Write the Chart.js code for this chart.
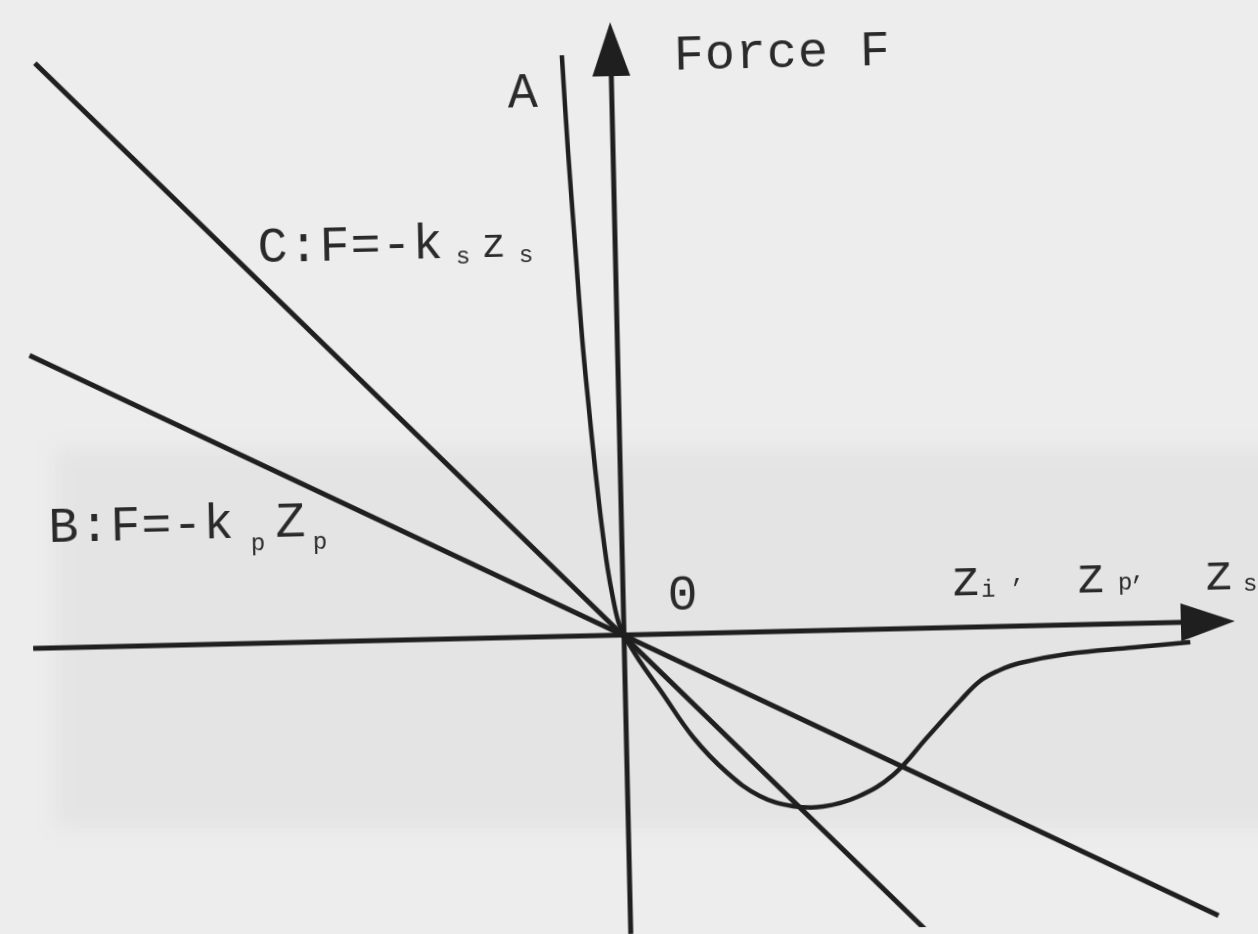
<!DOCTYPE html>
<html>
<head>
<meta charset="utf-8">
<title>Force F</title>
<script src="https://cdn.jsdelivr.net/npm/chart.js@4.4.1/dist/chart.umd.min.js"></script>
<style>
  html, body { margin: 0; padding: 0; background: #ededed; overflow: hidden; }
  #wrap { position: relative; width: 1258px; height: 934px; }
  #band {
    position: absolute; left: 55px; top: 448px; width: 1240px; height: 380px;
    background: #e4e4e4; filter: blur(10px);
  }
  #chart {
    position: absolute; left: 0; top: 0;
    transform: rotate(-1.3deg); transform-origin: 624px 635px;
  }
</style>
</head>
<body>
<div id="wrap">
  <div id="band"></div>
  <canvas id="chart" width="1258" height="934"></canvas>
</div>
<script>
// Displacement z (z_i, z_p, z_s) and force F for each characteristic.
const curveA_z = [-0.49, -0.45, -0.40, -0.35, -0.30, -0.25, -0.20, -0.15, -0.10, -0.05, 0.00,
                  0.10, 0.20, 0.35, 0.67, 1.00, 1.32, 1.65, 1.95, 2.30, 2.66, 3.01, 3.35, 3.55,
                  3.74, 3.95, 4.43, 5.09, 5.66];
const curveA_F = [5.81, 4.85, 3.90, 2.96, 2.28, 1.66, 1.12, 0.68, 0.36, 0.12, 0.00,
                  -0.18, -0.34, -0.56, -1.04, -1.40, -1.64, -1.75, -1.76, -1.67, -1.46, -1.09, -0.73, -0.54,
                  -0.44, -0.37, -0.29, -0.24, -0.20];

// B: F = -k_p z_p
const lineB_z = [-5.88, 5.88];
const lineB_F = [2.93, -2.94];

// C: F = -k_s z_s
const lineC_z = [-5.76, 3.05];
const lineC_F = [5.85, -3.12];

// Axis extents (tail, arrow tip)
const zAxisRange = [-5.91, 6.11];
const fAxisRange = [-3.05, 6.13];

const toPoints = (zs, fs) => zs.map((z, i) => ({ x: z, y: fs[i] }));

const INK = '#1f1f1f';
const TEXT = '#2a2a2a';
const FAMILY = '"Liberation Mono", "DejaVu Sans Mono", monospace';
const MAIN_FONT = '50px ' + FAMILY;
const SMALL_FONT = '40px ' + FAMILY;
const SUB_FONT = '24px ' + FAMILY;

// Text labels anchored in data coordinates; runs are offset in pixels from the anchor.
const labels = [
  { z: 0.63, f: 5.64, runs: [{ t: 'Force F', dx: 0 }] },
  { z: -1.04, f: 5.30, runs: [{ t: 'A', dx: 0 }] },
  { z: -3.575, f: 3.81, runs: [
      { t: 'C:F=-k', dx: 0 }, { t: 's', dx: 198, dy: 6, sub: true },
      { t: 'z', dx: 224, small: true }, { t: 's', dx: 261, dy: 6, sub: true }] },
  { z: -5.73, f: 1.06, runs: [
      { t: 'B:F=-k', dx: 0 }, { t: 'p', dx: 202, dy: 13, sub: true },
      { t: 'Z', dx: 227 }, { t: 'p', dx: 264, dy: 13, sub: true }] },
  { z: 0.445, f: 0.24, runs: [{ t: '0', dx: 0 }] },
  { z: 3.28, f: 0.325, runs: [
      { t: 'z', dx: 0 }, { t: 'i', dx: 30, dy: 2, sub: true }, { t: ',', dx: 60, dy: -12, sub: true },
      { t: 'z', dx: 125 }, { t: 'p', dx: 167, dy: -2, sub: true }, { t: ',', dx: 180, dy: -12, sub: true },
      { t: 'z', dx: 253 }, { t: 's', dx: 292, dy: 2, sub: true }] }
];

// Axes with filled arrowheads, drawn through the chart scales.
const axesPlugin = {
  id: 'axesWithArrows',
  beforeDatasetsDraw(chart) {
    const { ctx, scales: { x, y } } = chart;
    const x0 = x.getPixelForValue(0), y0 = y.getPixelForValue(0);
    const headLen = 54, headHalf = 19;
    ctx.save();
    ctx.strokeStyle = INK;
    ctx.fillStyle = INK;
    ctx.lineWidth = 5;
    ctx.lineCap = 'butt';

    // horizontal z axis
    const zTail = x.getPixelForValue(zAxisRange[0]);
    const zTip = x.getPixelForValue(zAxisRange[1]);
    ctx.beginPath();
    ctx.moveTo(zTail, y0);
    ctx.lineTo(zTip - headLen + 2, y0);
    ctx.stroke();
    ctx.beginPath();
    ctx.moveTo(zTip, y0);
    ctx.lineTo(zTip - headLen, y0 - headHalf);
    ctx.lineTo(zTip - headLen, y0 + headHalf);
    ctx.closePath();
    ctx.fill();

    // vertical force axis
    const fTail = y.getPixelForValue(fAxisRange[0]);
    const fTip = y.getPixelForValue(fAxisRange[1]);
    ctx.beginPath();
    ctx.moveTo(x0, fTail);
    ctx.lineTo(x0, fTip + headLen - 2);
    ctx.stroke();
    ctx.beginPath();
    ctx.moveTo(x0, fTip);
    ctx.lineTo(x0 - headHalf, fTip + headLen);
    ctx.lineTo(x0 + headHalf, fTip + headLen);
    ctx.closePath();
    ctx.fill();
    ctx.restore();
  }
};

const labelPlugin = {
  id: 'equationLabels',
  afterDatasetsDraw(chart) {
    const { ctx, scales: { x, y } } = chart;
    ctx.save();
    ctx.fillStyle = TEXT;
    ctx.textBaseline = 'alphabetic';
    ctx.textAlign = 'left';
    labels.forEach(l => {
      const px = x.getPixelForValue(l.z), py = y.getPixelForValue(l.f);
      l.runs.forEach(r => {
        ctx.font = r.sub ? SUB_FONT : (r.small ? SMALL_FONT : MAIN_FONT);
        if ('letterSpacing' in ctx) ctx.letterSpacing = r.sub ? '0px' : '1px';
        ctx.fillText(r.t, px + r.dx, py + (r.dy || 0));
      });
    });
    ctx.restore();
  }
};

const lineStyle = (width) => ({
  showLine: true, borderColor: INK, borderWidth: width, pointRadius: 0,
  pointHoverRadius: 0, fill: false, borderCapStyle: 'butt', borderJoinStyle: 'round'
});

new Chart(document.getElementById('chart'), {
  type: 'scatter',
  data: {
    datasets: [
      { label: 'A', data: toPoints(curveA_z, curveA_F), ...lineStyle(4.5), tension: 0.4 },
      { label: 'B: F=-kp zp', data: toPoints(lineB_z, lineB_F), ...lineStyle(5) },
      { label: 'C: F=-ks zs', data: toPoints(lineC_z, lineC_F), ...lineStyle(5) }
    ]
  },
  options: {
    responsive: false,
    animation: false,
    devicePixelRatio: 1,
    layout: { padding: 0 },
    plugins: { legend: { display: false }, tooltip: { enabled: false } },
    scales: {
      x: { type: 'linear', display: false, min: -6.24, max: 6.34 },
      y: { type: 'linear', display: false, min: -2.99, max: 6.35 }
    }
  },
  plugins: [axesPlugin, labelPlugin]
});
</script>
</body>
</html>
